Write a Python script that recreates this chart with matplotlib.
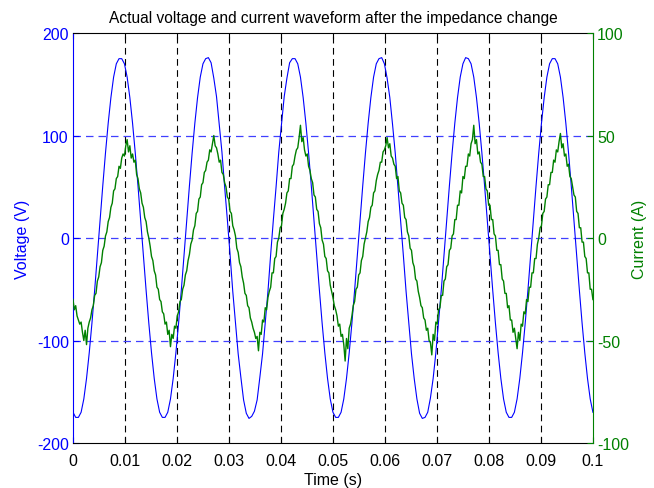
import numpy as np
from matplotlib import pyplot as plt

plt.rcParams['font.family'] = ['Liberation Sans', 'DejaVu Sans']
plt.rcParams['axes.unicode_minus'] = False

# voltage samples, 32 per 60 Hz cycle over 0..0.1 s
voltage = [
    -170, -175, -175, -170, -157, -137, -112, -83, -51, -17, 17, 51, 83, 112, 137, 157, 170, 175,
    175, 170, 157, 137, 112, 83, 51, 17, -17, -51, -83, -112, -137, -157, -170, -175,
    -175, -170, -157, -137, -112, -83, -51, -17, 17, 51, 83, 112, 137, 157, 170, 175,
    176, 171, 156, 138, 111, 84, 50, 18, -16, -52, -82, -113, -136, -158, -171, -176,
    -174, -169, -158, -136, -113, -82, -52, -16, 18, 50, 84, 111, 138, 156, 171, 175,
    175, 170, 157, 137, 112, 83, 51, 17, -17, -51, -83, -112, -137, -157, -170, -175,
    -175, -170, -157, -137, -112, -83, -51, -17, 17, 51, 83, 112, 137, 157, 170, 175,
    176, 170, 156, 137, 111, 83, 50, 17, -17, -52, -83, -113, -137, -157, -171, -176,
    -175, -170, -156, -137, -112, -82, -51, -17, 17, 51, 83, 112, 137, 157, 170, 176,
    175, 170, 157, 137, 112, 83, 51, 17, -17, -51, -83, -112, -137, -157, -170, -175,
    -175, -170, -157, -137, -112, -83, -51, -17, 17, 51, 83, 112, 137, 157, 170, 175,
    175, 170, 157, 137, 112, 83, 51, 17, -17, -51, -83, -112, -137, -157, -170,
]

# current samples, 64 per cycle over 0..0.1 s
current = [
    -30, -35, -33, -38, -40, -42, -41, -46,
    -50, -45, -52, -44, -41, -39, -35, -33, -28, -27, -21, -19, -14, -12, -6, -4,
    1, 3, 8, 10, 15, 17, 23, 24, 29, 30, 35, 34, 39, 41, 40, 45,
    48, 42, 45, 39, 41, 37, 38, 31, 29, 24, 22, 17, 15, 10, 8, 3,
    0, -4, -9, -11, -16, -18, -24, -25, -30, -31, -36, -37, -42, -41, -47, -45,
    -53, -47, -49, -43, -44, -38, -36, -31, -30, -25, -23, -18, -16, -11, -8, -3,
    -1, 4, 6, 12, 13, 19, 20, 26, 27, 32, 33, 37, 38, 43, 42, 46,
    50, 45, 44, 41, 37, 38, 32, 31, 27, 25, 20, 19, 13, 12, 6, 4,
    1, -5, -7, -12, -14, -19, -22, -27, -28, -33, -34, -39, -41, -44, -46, -49,
    -48, -55, -46, -47, -40, -41, -34, -35, -29, -26, -24, -17, -17, -10, -9, -2,
    0, 5, 6, 12, 14, 17, 22, 23, 29, 29, 35, 36, 40, 43, 44, 49,
    55, 47, 49, 43, 40, 41, 35, 33, 29, 27, 21, 20, 14, 13, 7, 5,
    -1, -3, -9, -10, -16, -17, -23, -26, -29, -33, -35, -38, -43, -42, -48, -47,
    -52, -60, -49, -54, -44, -42, -38, -33, -31, -25, -24, -18, -17, -11, -9, -3,
    0, 3, 8, 10, 15, 16, 22, 23, 28, 31, 33, 37, 37, 42, 43, 45,
    49, 44, 46, 40, 39, 36, 35, 29, 30, 23, 22, 17, 16, 10, 9, 3,
    1, -5, -6, -12, -14, -20, -21, -26, -29, -33, -34, -39, -40, -45, -44, -50,
    -51, -57, -47, -50, -41, -42, -35, -34, -28, -28, -21, -20, -14, -13, -6, -5,
    1, 2, 9, 9, 16, 16, 23, 22, 30, 29, 35, 35, 41, 40, 46, 48,
    55, 46, 48, 41, 42, 37, 36, 30, 30, 24, 23, 16, 16, 9, 9, 2,
    1, -6, -6, -13, -13, -20, -21, -27, -27, -34, -33, -40, -40, -46, -44, -49,
    -54, -46, -50, -42, -43, -36, -37, -30, -31, -24, -24, -17, -17, -10, -10, -3,
    0, 5, 6, 12, 13, 19, 20, 26, 26, 32, 32, 38, 37, 43, 42, 47,
    51, 44, 46, 40, 41, 35, 36, 30, 29, 25, 21, 20, 13, 12, 5, 5,
    -2, -2, -9, -10, -17, -17, -25, -25, -30,
]

t_v = np.linspace(0, 0.1, len(voltage))
t_i = np.linspace(0, 0.1, len(current))

xticks = [0, 0.01, 0.02, 0.03, 0.04, 0.05, 0.06, 0.07, 0.08, 0.09, 0.1]
xticklabels = ['0', '0.01', '0.02', '0.03', '0.04', '0.05', '0.06', '0.07', '0.08', '0.09', '0.1']

blue = (0, 0, 1)
green = (0, 0.5, 0)
fs = 11.5

fig = plt.figure(figsize=(6.54, 4.89), dpi=100)
ax1 = fig.add_axes([0.1116, 0.092, 0.795, 0.8384])
ax2 = ax1.twinx()

ax1.plot(t_v, voltage, color=blue, lw=0.8)
ax2.plot(t_i, current, color=green, lw=1.0)

ax1.set_xlim(0, 0.1)
ax1.set_ylim(-200, 200)
ax2.set_ylim(-100, 100)
ax1.set_xticks(xticks)
ax1.set_xticklabels(xticklabels)
ax1.set_yticks([-200, -100, 0, 100, 200])
ax2.set_yticks([-100, -50, 0, 50, 100])

# dashed grid: vertical in black, horizontal in the voltage colour
for x in xticks[1:-1]:
    ax1.axvline(x, color='k', lw=0.8, dashes=(6, 4), zorder=0.5)
for y in [-100, 0, 100]:
    ax1.axhline(y, color=(0.25, 0.25, 1), lw=0.9, dashes=(6, 4), zorder=0.5)

ax1.tick_params(axis='x', direction='in', top=True, length=4, labelsize=fs, pad=7)
ax1.tick_params(axis='y', direction='in', colors=blue, length=4, labelsize=fs, pad=3)
ax2.tick_params(axis='y', direction='in', colors=green, length=4, labelsize=fs, pad=3)

ax1.spines['left'].set_color(blue)
ax1.spines['right'].set_visible(False)
ax2.spines['left'].set_visible(False)
ax2.spines['right'].set_color(green)
ax2.spines['top'].set_visible(False)
ax2.spines['bottom'].set_visible(False)

ax1.set_xlabel('Time (s)', fontsize=fs, labelpad=3)
ax1.set_ylabel('Voltage (V)', color=blue, fontsize=fs, labelpad=5)
ax2.set_ylabel('Current (A)', color=green, fontsize=fs, labelpad=2)
ax1.set_title('Actual voltage and current waveform after the impedance change', fontsize=11.2, pad=8)

fig.savefig('out.png', dpi=100)
